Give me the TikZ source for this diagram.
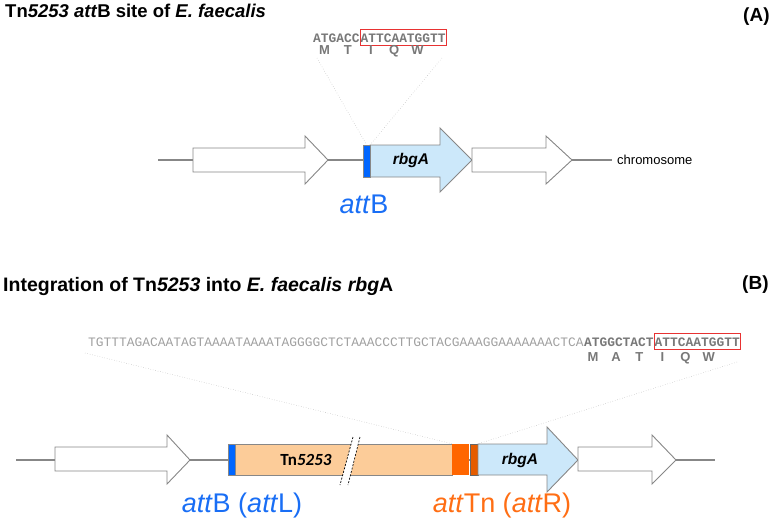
\documentclass[tikz,border=0pt]{standalone}
\usepackage{fontspec}
\setmainfont{Liberation Sans}
\newfontfamily\seqfont{Liberation Mono}
\newfontfamily\genefont{Carlito}
\usetikzlibrary{positioning,calc}
\definecolor{attblue}{RGB}{0,102,255}
\definecolor{labelblue}{RGB}{25,110,245}
\definecolor{rbgblue}{RGB}{204,232,250}
\definecolor{tnorange}{RGB}{252,204,153}
\definecolor{attorange}{RGB}{255,102,0}
\definecolor{labelorange}{RGB}{255,110,20}
\definecolor{boxred}{RGB}{232,50,50}
\definecolor{linegray}{RGB}{135,135,135}
\definecolor{seqgray}{RGB}{120,120,120}
\definecolor{seqlight}{RGB}{160,160,160}

\tikzset{
  title/.style={font=\fontsize{18.5}{21}\selectfont\bfseries, anchor=base west, inner sep=0pt},
  seqtxt/.style={font=\seqfont\fontsize{12.9}{14}\selectfont, anchor=base west, inner sep=0pt},
  seqbox/.style={seqtxt, draw=boxred, line width=0.8pt, inner xsep=0.3pt, inner ysep=2.5pt,
                 text height=10.5pt, text depth=0.5pt},
  aa/.style={font=\fontsize{13}{14}\selectfont\bfseries, text=seqgray, anchor=base, inner sep=0pt},
  attlabel/.style={font=\fontsize{27}{30}\selectfont, anchor=base, inner sep=0pt},
  backbone/.style={draw=linegray, line width=1.1pt},
  gene/.style={draw=linegray, line width=0.9pt, fill=white, line join=miter},
  block/.style={draw=linegray, line width=0.6pt, inner sep=0pt, minimum height=31pt},
  zoomline/.style={draw=gray!55, line width=0.5pt, dotted}
}

\begin{document}
\begin{tikzpicture}[x=1pt, y=-1pt]
\useasboundingbox (0,0) rectangle (777,523);

% (A) attB site
\node[title] (titleA) at (5,17) {Tn\textit{5253} \textit{att}B site of \textit{E. faecalis}};
\node[title, font=\fontsize{19}{21}\selectfont\bfseries] (panelA) at (743,21) {(A)};

\node[seqtxt, text=seqgray] (seqA1) at (313,42) {\bfseries ATGACC};
\node[seqbox, text=seqgray, anchor=base west] (seqA2) at (seqA1.base east) {\bfseries ATTCAATGGTT};
\foreach \a [count=\i from 0] in {M,T,I,Q,W}
  \node[aa] (aaA\i) at ({313+7.74*(3*\i+1.5)},54) {\a};

\draw[backbone] (158,160) -- (612,160);
\draw[gene] (193,148) -- (305,148) -- (305,136) -- (328,160) -- (305,184) -- (305,172) -- (193,172) -- cycle;
\draw[gene, fill=rbgblue] (370,145) -- (440,145) -- (440,128) -- (472,160) -- (440,192) -- (440,177) -- (370,177) -- cycle;
\draw[gene] (472,148) -- (546,148) -- (546,136) -- (572,160) -- (546,184) -- (546,172) -- (472,172) -- cycle;
\node[block, fill=attblue, minimum width=7pt, minimum height=32pt] (attBa) at (366.5,161) {};
\node[font=\fontsize{15.5}{17}\selectfont\bfseries\itshape] (rbgAa) at (411,160) {rbgA};
\node[font=\fontsize{13}{15}\selectfont, anchor=west, inner sep=0pt] (chrom) at (617,160) {chromosome};
\node[attlabel, text=labelblue] (attBlab) at (364,213) {\textit{att}B};

\coordinate (zA1) at (317,58);
\coordinate (zA2) at (442,58);
\draw[zoomline] (zA1) -- (attBa.north);
\draw[zoomline] (zA2) -- (attBa.north east);

% (B) integration of Tn5253
\node[title, font=\fontsize{19.5}{22}\selectfont\bfseries] (titleB) at (3,291) {Integration of Tn\textit{5253} into \textit{E. faecalis rbg}A};
\node[title, font=\fontsize{19}{21}\selectfont\bfseries] (panelB) at (742,289) {(B)};

\node[seqtxt, text=seqlight] (seqB1) at (88,346) {TGTTTAGACAATAGTAAAATAAAATAGGGGCTCTAAACCCTTGCTACGAAAGGAAAAAAACTCA};
\node[seqtxt, text=seqgray, anchor=base west] (seqB2) at (seqB1.base east) {\bfseries ATGGCTACT};
\node[seqbox, text=seqgray, anchor=base west] (seqB3) at (seqB2.base east) {\bfseries ATTCAATGGTT};
\foreach \a [count=\i from 0] in {M,A,T,I,Q,W}
  \node[aa] (aaB\i) at ({88+7.71*(64+3*\i+1.5)},361) {\a};

\draw[backbone] (16,460) -- (715,460);
\draw[gene] (55,447) -- (167,447) -- (167,435) -- (190,460) -- (167,484) -- (167,471) -- (55,471) -- cycle;
\node[block, fill=attblue, minimum width=7pt] (attLb) at (231.5,459.5) {};
\node[block, fill=tnorange, minimum width=217pt] (tn) at (343.5,459.5) {};
% break in the transposon
\fill[white] (353,437) -- (360,437) -- (348,485) -- (340,485) -- cycle;
\draw[black, line width=0.7pt, dash pattern=on 2pt off 1.5pt] (353,437) -- (340,485);
\draw[black, line width=0.7pt, dash pattern=on 2pt off 1.5pt] (360,437) -- (348,485);
\node[font=\genefont\fontsize{17}{19}\selectfont\bfseries] (tnlab) at (306,460) {Tn\textit{5253}};
\node[block, draw=none, fill=attorange, minimum width=17pt] (attTn) at (460.5,459.5) {};
\node[block, draw=black!60, fill=attorange!90!black, minimum width=8pt] (core) at (474,459.5) {};
\draw[gene, fill=rbgblue] (478,444) -- (547,444) -- (547,427) -- (578,460) -- (547,492) -- (547,475) -- (478,475) -- cycle;
\draw[gene] (578,447) -- (652,447) -- (652,435) -- (676,460) -- (652,484) -- (652,471) -- (578,471) -- cycle;
\node[font=\fontsize{15.5}{17}\selectfont\bfseries\itshape] (rbgAb) at (520,460) {rbgA};

\node[attlabel, text=labelblue] (attLlab) at (242,512) {\textit{att}B (\textit{att}L)};
\node[attlabel, text=labelorange] (attRlab) at (502,512) {\textit{att}Tn (\textit{att}R)};

\coordinate (zB1) at (85,353);
\coordinate (zB2) at (737,362);
\draw[zoomline] (zB1) -- (attTn.north west);
\draw[zoomline] (zB2) -- (core.north east);
\end{tikzpicture}
\end{document}
